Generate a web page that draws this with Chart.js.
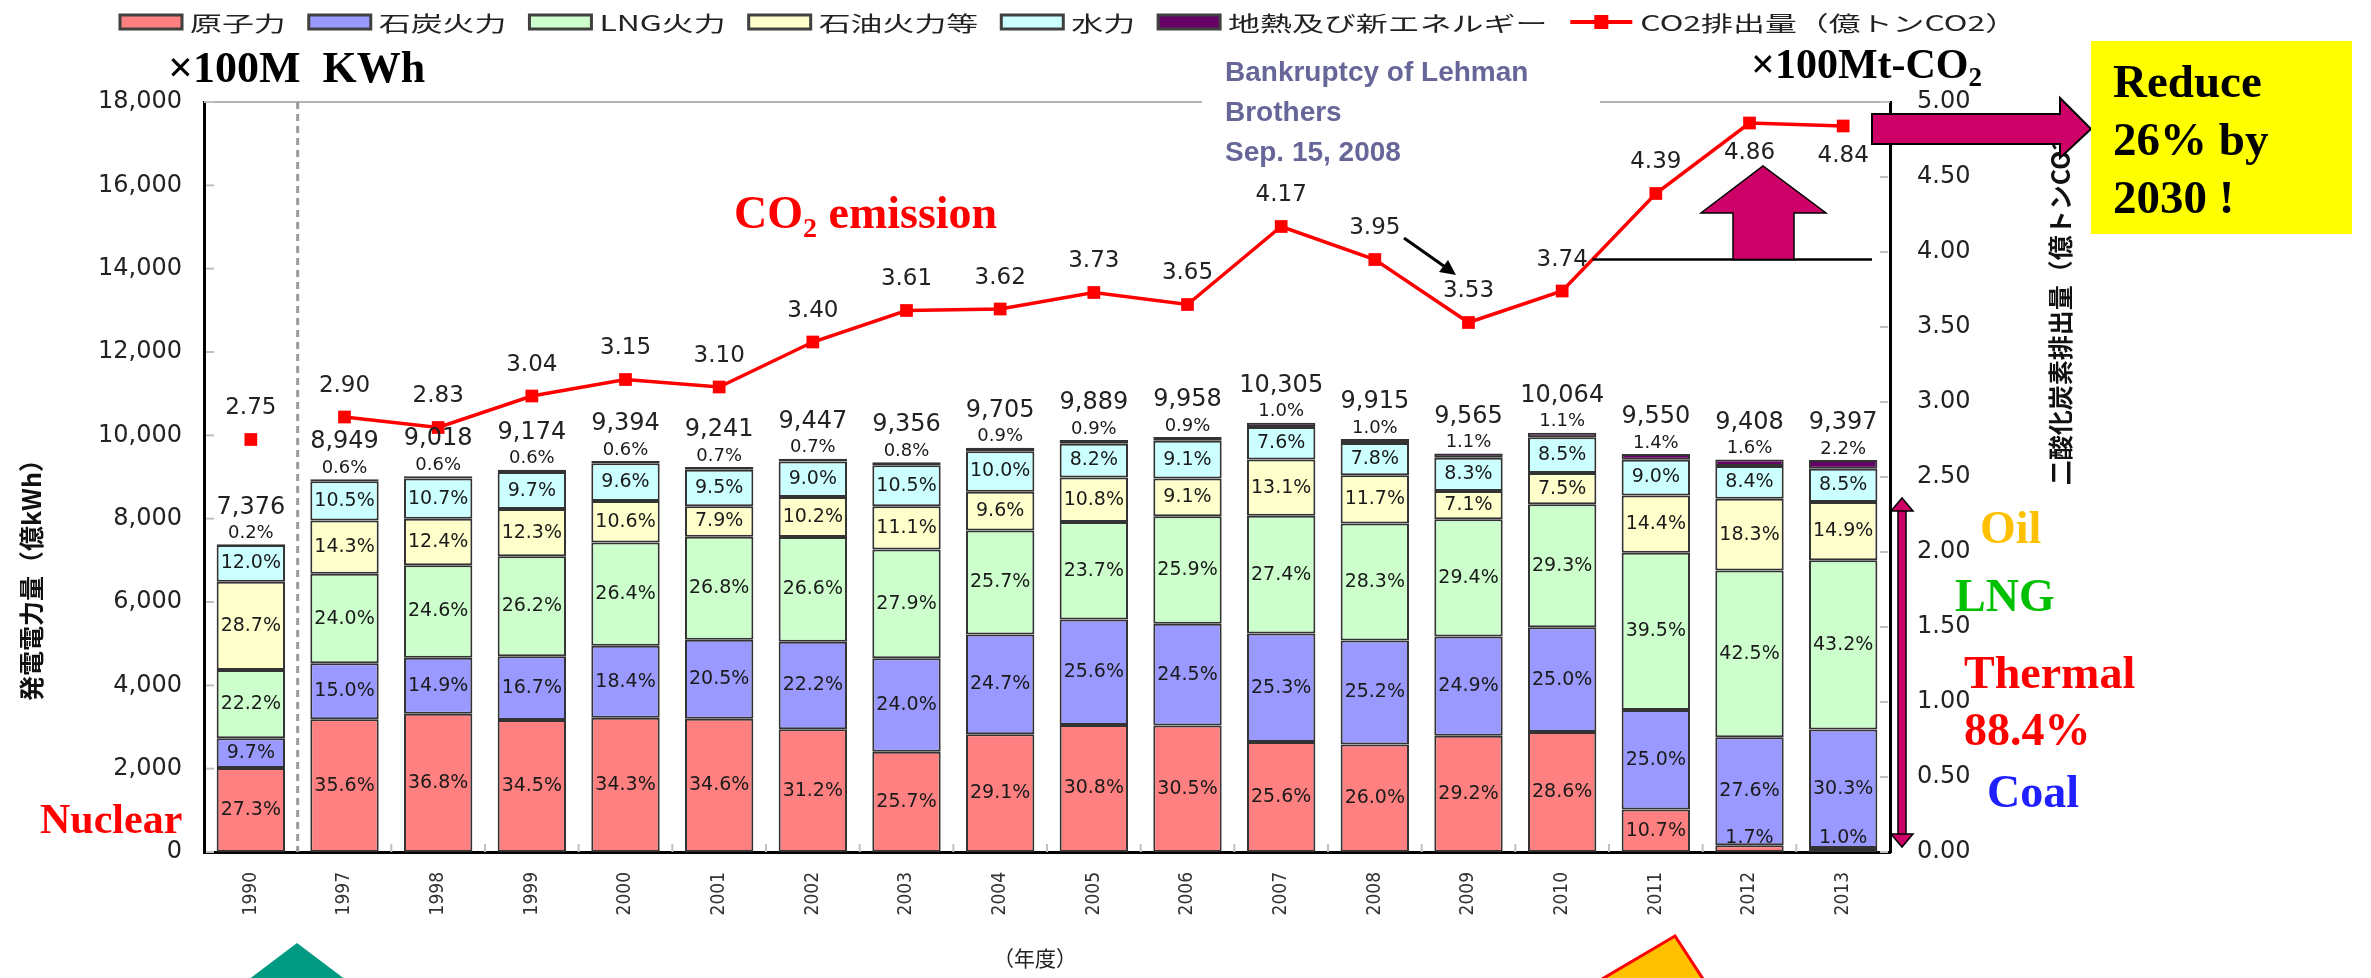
<!DOCTYPE html>
<html>
<head>
<meta charset="utf-8">
<script src="https://cdn.jsdelivr.net/npm/chart.js@4.4.1/dist/chart.umd.min.js"></script>
<style>
  html, body { margin: 0; padding: 0; background: #fff; }
  canvas { display: block; }
</style>
</head>
<body>
<canvas id="chart" width="2371" height="978"></canvas>
<script>
// data
const years = ['1990', '1997', '1998', '1999', '2000', '2001', '2002', '2003', '2004',
  '2005', '2006', '2007', '2008', '2009', '2010', '2011', '2012', '2013'];
const totals = [7376, 8949, 9018, 9174, 9394, 9241, 9447, 9356, 9705,
  9889, 9958, 10305, 9915, 9565, 10064, 9550, 9408, 9397];
const nuclearPct = [27.3, 35.6, 36.8, 34.5, 34.3, 34.6, 31.2, 25.7, 29.1, 30.8, 30.5, 25.6, 26.0, 29.2, 28.6, 10.7, 1.7, 1.0];
const coalPct = [9.7, 15.0, 14.9, 16.7, 18.4, 20.5, 22.2, 24.0, 24.7, 25.6, 24.5, 25.3, 25.2, 24.9, 25.0, 25.0, 27.6, 30.3];
const lngPct = [22.2, 24.0, 24.6, 26.2, 26.4, 26.8, 26.6, 27.9, 25.7, 23.7, 25.9, 27.4, 28.3, 29.4, 29.3, 39.5, 42.5, 43.2];
const oilPct = [28.7, 14.3, 12.4, 12.3, 10.6, 7.9, 10.2, 11.1, 9.6, 10.8, 9.1, 13.1, 11.7, 7.1, 7.5, 14.4, 18.3, 14.9];
const hydroPct = [12.0, 10.5, 10.7, 9.7, 9.6, 9.5, 9.0, 10.5, 10.0, 8.2, 9.1, 7.6, 7.8, 8.3, 8.5, 9.0, 8.4, 8.5];
const newPct = [0.2, 0.6, 0.6, 0.6, 0.6, 0.7, 0.7, 0.8, 0.9, 0.9, 0.9, 1.0, 1.0, 1.1, 1.1, 1.4, 1.6, 2.2];
const co2 = [2.75, 2.90, 2.83, 3.04, 3.15, 3.10, 3.40, 3.61, 3.62, 3.73, 3.65, 4.17, 3.95, 3.53, 3.74, 4.39, 4.86, 4.84];
const leftTicks = [0, 2000, 4000, 6000, 8000, 10000, 12000, 14000, 16000, 18000];
const rightTicks = [0, 0.5, 1, 1.5, 2, 2.5, 3, 3.5, 4, 4.5, 5];

const seriesNames = ['原子力', '石炭火力', 'LNG火力', '石油火力等', '水力', '地熱及び新エネルギー'];
const seriesColors = ['#FF8080', '#9999FF', '#CCFFCC', '#FFFFCC', '#CCFFFF', '#660066'];
const seriesPct = [nuclearPct, coalPct, lngPct, oilPct, hydroPct, newPct];
const co2Label = 'CO2排出量（億トンCO2）';

const SANS = '"DejaVu Sans", sans-serif';
const SERIF = '"Liberation Serif", "Times New Roman", serif';
const CJK = '"Noto Sans CJK JP", sans-serif';

const datasets = seriesPct.map((pct, i) => ({
  type: 'bar',
  label: seriesNames[i],
  data: pct.map((p, j) => totals[j] * p / 100),
  pct: pct,
  backgroundColor: seriesColors[i],
  borderColor: '#333',
  borderWidth: 2,
  borderSkipped: false,
  yAxisID: 'y',
  stack: 'gen',
  order: 1,
  categoryPercentage: 1,
  barPercentage: 0.73
}));
datasets.push({
  type: 'line',
  label: co2Label,
  data: co2,
  yAxisID: 'y1',
  borderColor: '#FF0000',
  backgroundColor: '#FF0000',
  borderWidth: 3.5,
  pointStyle: 'rect',
  pointRadius: 9,
  pointBorderWidth: 0,
  tension: 0,
  order: 0,
  // 1990 stands alone, no segment to 1997
  segment: { borderColor: c => c.p0DataIndex === 0 ? 'rgba(0,0,0,0)' : '#FF0000' }
});

function subText(ctx, parts, x, y, align) {
  // parts: [text, size, dy]
  let w = 0;
  parts.forEach(p => { ctx.font = 'bold ' + p[1] + 'px ' + SERIF; w += ctx.measureText(p[0]).width; });
  let cx = align === 'right' ? x - w : x;
  ctx.textAlign = 'left';
  parts.forEach(p => {
    ctx.font = 'bold ' + p[1] + 'px ' + SERIF;
    ctx.fillText(p[0], cx, y + (p[2] || 0));
    cx += ctx.measureText(p[0]).width;
  });
}

function poly(ctx, pts, fill, stroke, lw) {
  ctx.beginPath();
  pts.forEach((p, k) => k ? ctx.lineTo(p[0], p[1]) : ctx.moveTo(p[0], p[1]));
  ctx.closePath();
  ctx.fillStyle = fill;
  ctx.fill();
  if (stroke) { ctx.strokeStyle = stroke; ctx.lineWidth = lw; ctx.stroke(); }
}

const backdrop = {
  id: 'backdrop',
  beforeDatasetsDraw(chart) {
    const { ctx, chartArea: a, scales } = chart;
    ctx.save();
    // top frame line
    ctx.strokeStyle = '#b3b3b3';
    ctx.lineWidth = 2;
    ctx.beginPath();
    ctx.moveTo(a.left, a.top);
    ctx.lineTo(a.right, a.top);
    ctx.stroke();
    // dashed separator between 1990 and 1997
    const xd = (scales.x.getPixelForValue(0) + scales.x.getPixelForValue(1)) / 2;
    ctx.strokeStyle = '#9a9a9a';
    ctx.lineWidth = 3;
    ctx.setLineDash([7, 5]);
    ctx.beginPath();
    ctx.moveTo(xd, a.top);
    ctx.lineTo(xd, a.bottom);
    ctx.stroke();
    ctx.setLineDash([]);
    // inner tick marks
    ctx.strokeStyle = '#c0c0c0';
    ctx.lineWidth = 2;
    leftTicks.forEach(v => {
      const y = scales.y.getPixelForValue(v);
      ctx.beginPath(); ctx.moveTo(a.left + 2, y); ctx.lineTo(a.left + 10, y); ctx.stroke();
    });
    rightTicks.forEach(v => {
      const y = scales.y1.getPixelForValue(v);
      ctx.beginPath(); ctx.moveTo(a.right - 10, y); ctx.lineTo(a.right - 2, y); ctx.stroke();
    });
    const step = scales.x.getPixelForValue(1) - scales.x.getPixelForValue(0);
    for (let j = 2; j < years.length; j++) {
      const x = scales.x.getPixelForValue(j) - step / 2;
      ctx.beginPath(); ctx.moveTo(x, a.bottom - 8); ctx.lineTo(x, a.bottom); ctx.stroke();
    }
    ctx.restore();
  }
};

const valueLabels = {
  id: 'valueLabels',
  afterDatasetsDraw(chart) {
    const ctx = chart.ctx;
    ctx.save();
    ctx.textAlign = 'center';
    ctx.textBaseline = 'middle';
    chart.data.datasets.forEach((ds, i) => {
      const meta = chart.getDatasetMeta(i);
      if (ds.type === 'bar') {
        meta.data.forEach((bar, j) => {
          const txt = ds.pct[j].toFixed(1) + '%';
          ctx.fillStyle = '#1a1a1a';
          if (i === seriesPct.length - 1) {
            ctx.font = '18px ' + SANS;
            ctx.fillText(txt, bar.x, bar.y - 11);
            ctx.font = '24px ' + SANS;
            ctx.fillStyle = '#222';
            ctx.fillText(totals[j].toLocaleString('en-US'), bar.x, bar.y - 37);
          } else {
            ctx.font = '19px ' + SANS;
            const h = bar.base - bar.y;
            const y = h < 22 ? bar.base - 14 : (bar.y + bar.base) / 2;
            ctx.fillText(txt, bar.x, y);
          }
        });
      } else {
        ctx.font = '23px ' + SANS;
        ctx.fillStyle = '#222';
        meta.data.forEach((pt, j) => {
          const below = j >= ds.data.length - 2;
          ctx.fillText(ds.data[j].toFixed(2), pt.x, below ? pt.y + 30 : pt.y - 31);
        });
      }
    });
    ctx.restore();
  }
};

const annotations = {
  id: 'annotations',
  afterDraw(chart) {
    const { ctx, chartArea: a, scales } = chart;
    ctx.save();

    // legend
    let lx = 120;
    const ly = 22;
    const sx = 1.52;
    ctx.font = '21px ' + CJK;
    ctx.textBaseline = 'middle';
    chart.data.datasets.forEach(ds => {
      if (ds.type === 'bar') {
        ctx.fillStyle = ds.backgroundColor;
        ctx.fillRect(lx, ly - 7, 62, 14);
        ctx.strokeStyle = '#404040';
        ctx.lineWidth = 3;
        ctx.strokeRect(lx, ly - 7, 62, 14);
      } else {
        ctx.strokeStyle = '#FF0000';
        ctx.lineWidth = 4;
        ctx.beginPath(); ctx.moveTo(lx, ly); ctx.lineTo(lx + 62, ly); ctx.stroke();
        ctx.fillStyle = '#FF0000';
        ctx.fillRect(lx + 24, ly - 7, 14, 14);
      }
      lx += 70;
      ctx.fillStyle = '#222';
      ctx.textAlign = 'left';
      ctx.save();
      ctx.translate(lx, ly + 1);
      ctx.scale(sx, 1);
      ctx.fillText(ds.label, 0, 0);
      ctx.restore();
      lx += ctx.measureText(ds.label).width * sx + 23;
    });
    ctx.textBaseline = 'alphabetic';

    // axis titles
    ctx.fillStyle = '#111';
    ctx.textAlign = 'center';
    ctx.save();
    ctx.translate(31, 574);
    ctx.rotate(-Math.PI / 2);
    ctx.font = 'bold 25px ' + CJK;
    ctx.textBaseline = 'middle';
    ctx.fillText('発電電力量（億kWh）', 0, 0);
    ctx.restore();

    ctx.save();
    ctx.translate(2060, 298);
    ctx.rotate(-Math.PI / 2);
    ctx.font = 'bold 25px ' + CJK;
    ctx.textBaseline = 'middle';
    ctx.fillText('二酸化炭素排出量（億トンCO2）', 0, 0);
    ctx.restore();

    ctx.font = '21px ' + CJK;
    ctx.fillStyle = '#222';
    ctx.fillText('（年度）', 1035, 966);

    // units
    ctx.fillStyle = '#000';
    subText(ctx, [['×100M  KWh', 44]], 168, 82, 'left');
    subText(ctx, [['×100Mt-CO', 42], ['2', 27, 8]], 1982, 78, 'right');

    // Lehman note, breaks the top frame line
    ctx.fillStyle = '#fff';
    ctx.fillRect(1202, a.top - 4, 398, 8);
    ctx.fillStyle = '#666699';
    ctx.font = 'bold 28px "Liberation Sans", Arial, sans-serif';
    ctx.textAlign = 'left';
    ctx.fillText('Bankruptcy of Lehman', 1225, 81);
    ctx.fillText('Brothers', 1225, 121);
    ctx.fillText('Sep. 15, 2008', 1225, 161);

    // black arrow to the 2009 drop
    ctx.strokeStyle = '#000';
    ctx.lineWidth = 3;
    ctx.beginPath(); ctx.moveTo(1404, 238); ctx.lineTo(1448, 269); ctx.stroke();
    poly(ctx, [[1456, 275], [1439, 272], [1448, 260]], '#000');

    // reference line from the 2010 level
    const yRef = scales.y1.getPixelForValue(3.95);
    const x10 = scales.x.getPixelForValue(14), x11 = scales.x.getPixelForValue(15);
    const xStart = x10 + (x11 - x10) * (3.95 - co2[14]) / (co2[15] - co2[14]);
    ctx.strokeStyle = '#000';
    ctx.lineWidth = 2.5;
    ctx.beginPath(); ctx.moveTo(xStart, yRef); ctx.lineTo(a.right - 18, yRef); ctx.stroke();

    // up arrow
    poly(ctx, [[1733, yRef], [1733, 213], [1701, 213], [1763, 166], [1826, 213], [1794, 213], [1794, yRef]],
      '#CC0066', '#000', 1.5);

    // arrow to the yellow box
    poly(ctx, [[1872, 114], [2060, 114], [2060, 98], [2091, 129], [2060, 158], [2060, 144], [1872, 144]],
      '#CC0066', '#000', 2);

    ctx.fillStyle = '#FFFF00';
    ctx.fillRect(2091, 41, 261, 193);
    ctx.fillStyle = '#000';
    ctx.font = 'bold 47px ' + SERIF;
    ctx.textAlign = 'left';
    ctx.fillText('Reduce', 2113, 97);
    ctx.fillText('26% by', 2113, 155);
    ctx.fillText('2030 !', 2113, 213);

    // CO2 emission
    ctx.fillStyle = '#FF0000';
    subText(ctx, [['CO', 46], ['2', 28, 9], [' emission', 46]], 734, 228, 'left');
    ctx.font = 'bold 42px ' + SERIF;
    ctx.fillText('Nuclear', 40, 833);

    // thermal share bracket
    const xb = a.right + 12;
    const yTop = 498, yBot = 847;
    ctx.fillStyle = '#CC0066';
    ctx.strokeStyle = '#000';
    ctx.lineWidth = 1.5;
    ctx.fillRect(xb - 4, yTop + 12, 8, yBot - yTop - 24);
    ctx.strokeRect(xb - 4, yTop + 12, 8, yBot - yTop - 24);
    poly(ctx, [[xb - 11, yTop + 13], [xb, yTop], [xb + 11, yTop + 13]], '#CC0066', '#000', 1.5);
    poly(ctx, [[xb - 11, yBot - 13], [xb, yBot], [xb + 11, yBot - 13]], '#CC0066', '#000', 1.5);

    ctx.font = 'bold 46px ' + SERIF;
    ctx.textAlign = 'left';
    ctx.fillStyle = '#FFC000'; ctx.fillText('Oil', 1980, 543);
    ctx.fillStyle = '#00C000'; ctx.fillText('LNG', 1955, 611);
    ctx.fillStyle = '#FF0000'; ctx.fillText('Thermal', 1964, 688);
    ctx.fillText('88.4%', 1964, 745);
    ctx.fillStyle = '#1F1FFF'; ctx.fillText('Coal', 1987, 807);

    // triangles at the bottom
    poly(ctx, [[297, 943], [248, 980], [346, 980]], '#009982');
    poly(ctx, [[1675, 936], [1597, 982], [1705, 982]], '#FFC000', '#FF0000', 3);

    ctx.restore();
  }
};

new Chart(document.getElementById('chart'), {
  data: { labels: years, datasets: datasets },
  options: {
    responsive: false,
    animation: false,
    devicePixelRatio: 1,
    layout: { padding: { top: 102, left: 0, right: 0, bottom: 0 } },
    plugins: {
      legend: { display: false },
      tooltip: { enabled: false }
    },
    scales: {
      x: {
        stacked: true,
        grid: { display: false, drawTicks: false },
        border: { color: '#000', width: 3 },
        ticks: {
          autoSkip: false,
          minRotation: 90,
          maxRotation: 90,
          padding: 20,
          color: '#333',
          font: { family: '"DejaVu Sans Condensed", "DejaVu Sans", sans-serif', size: 19 }
        },
        afterFit: s => { s.height = 126; }
      },
      y: {
        stacked: true,
        min: 0,
        max: 18000,
        afterBuildTicks: s => { s.ticks = leftTicks.map(v => ({ value: v })); },
        grid: { display: false, drawTicks: false },
        border: { color: '#000', width: 3 },
        ticks: {
          padding: 22,
          color: '#222',
          font: { family: SANS, size: 24 },
          callback: v => v.toLocaleString('en-US')
        },
        afterFit: s => { s.width = 204; }
      },
      y1: {
        position: 'right',
        min: 0,
        max: 5,
        afterBuildTicks: s => { s.ticks = rightTicks.map(v => ({ value: v })); },
        grid: { display: false, drawTicks: false },
        border: { color: '#000', width: 3 },
        ticks: {
          padding: 27,
          color: '#222',
          font: { family: SANS, size: 24 },
          callback: v => Number(v).toFixed(2)
        },
        afterFit: s => { s.width = 481; }
      }
    }
  },
  plugins: [backdrop, valueLabels, annotations]
});
</script>
</body>
</html>
